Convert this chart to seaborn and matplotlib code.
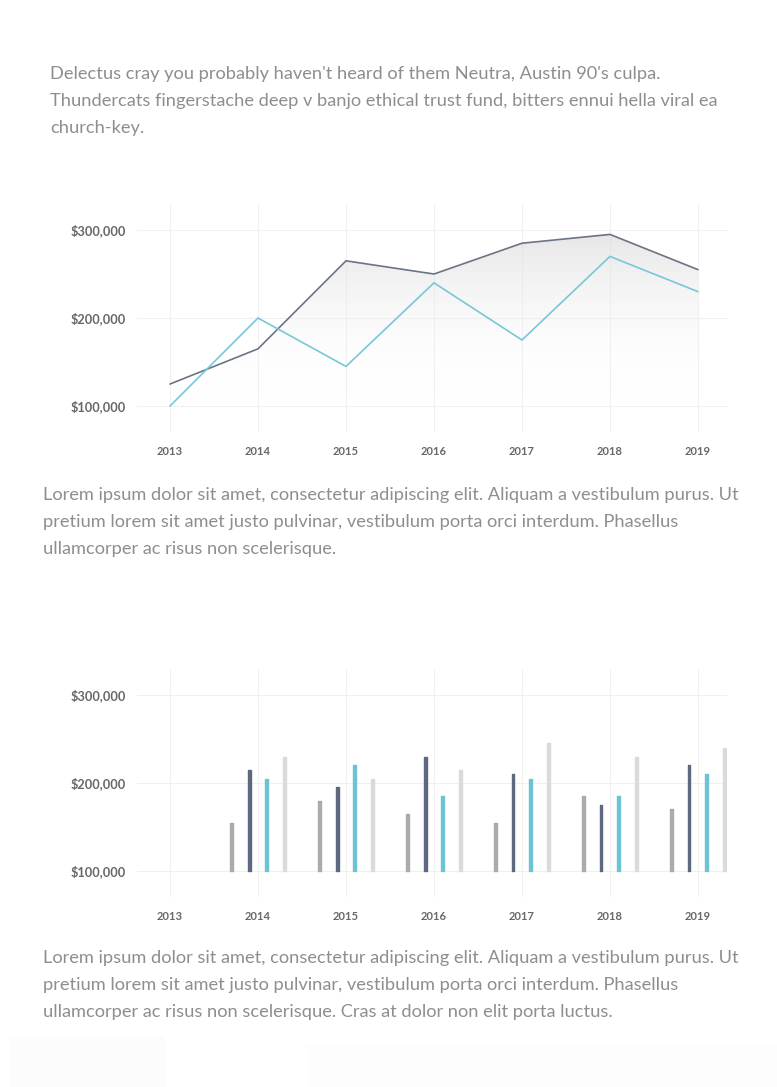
import numpy as np
import pandas as pd
import matplotlib
matplotlib.use("Agg")
import matplotlib.pyplot as plt
from matplotlib.patches import Polygon, Rectangle
from matplotlib.colors import LinearSegmentedColormap
from matplotlib.ticker import FuncFormatter
import seaborn as sns

# ---------------- data ----------------
years = [2013, 2014, 2015, 2016, 2017, 2018, 2019]
line_dark = [125000, 165000, 265000, 250000, 285000, 295000, 255000]
line_teal = [100000, 200000, 145000, 240000, 175000, 270000, 230000]

bar_years = [2014, 2015, 2016, 2017, 2018, 2019]
bar_gray = [155000, 180000, 165000, 155000, 185000, 170000]
bar_dark = [215000, 195000, 230000, 210000, 175000, 220000]
bar_teal = [205000, 220000, 185000, 205000, 185000, 210000]
bar_light = [230000, 205000, 215000, 245000, 230000, 240000]

y_ticks = [100000, 200000, 300000]
BASE = 100000

para1 = ["Delectus cray you probably haven't heard of them Neutra, Austin 90's culpa.",
         "Thundercats fingerstache deep v banjo ethical trust fund, bitters ennui hella viral ea",
         "church-key."]
para2 = ["Lorem ipsum dolor sit amet, consectetur adipiscing elit. Aliquam a vestibulum purus. Ut",
         "pretium lorem sit amet justo pulvinar, vestibulum porta orci interdum. Phasellus",
         "ullamcorper ac risus non scelerisque."]
para3 = ["Lorem ipsum dolor sit amet, consectetur adipiscing elit. Aliquam a vestibulum purus. Ut",
         "pretium lorem sit amet justo pulvinar, vestibulum porta orci interdum. Phasellus",
         "ullamcorper ac risus non scelerisque. Cras at dolor non elit porta luctus."]

# ---------------- style ----------------
sns.set_theme(style="white")
plt.rcParams['font.family'] = ['Lato', 'DejaVu Sans']

C_DARK = "#6b7384"
C_TEAL = "#78c7d6"
C_GRAY = "#ababab"
C_LIGHT = "#dadada"
C_BARDARK = "#5e6980"
C_BARTEAL = "#6cc3d5"
TXT = "#8e8e8e"
TICK = "#676767"
GRID = "#f0f0f0"

W, H = 777, 1087
fig = plt.figure(figsize=(W / 100, H / 100), dpi=100)
fig.patch.set_facecolor("white")


def px_axes(left, top, right, bottom):
    return fig.add_axes([left / W, 1 - bottom / H, (right - left) / W, (bottom - top) / H])


YLIM = (70500, 329000)
money = FuncFormatter(lambda v, p: "${:,.0f}".format(v))


def style_axes(ax):
    ax.set_ylim(*YLIM)
    ax.set_yticks(y_ticks)
    ax.yaxis.set_major_formatter(money)
    for s in ax.spines.values():
        s.set_visible(False)
    ax.grid(True, color=GRID, linewidth=0.8)
    ax.set_axisbelow(True)
    ax.tick_params(axis="y", length=0, pad=8, labelsize=9.2, labelcolor=TICK)
    ax.tick_params(axis="x", length=0, pad=10, labelsize=8.0, labelcolor=TICK)
    for lab in ax.get_xticklabels() + ax.get_yticklabels():
        lab.set_fontweight("bold")
    ax.set_xlabel("")
    ax.set_ylabel("")


# ---------------- line chart ----------------
ax1 = px_axes(137, 204.5, 727, 432)
df_line = pd.DataFrame({
    "year": years * 2,
    "value": line_dark + line_teal,
    "series": ["dark"] * len(years) + ["teal"] * len(years),
})

# gradient fill under the dark line
verts = [(years[0], YLIM[0])] + list(zip(years, line_dark)) + [(years[-1], YLIM[0])]
poly = Polygon(verts, closed=True, facecolor="none", edgecolor="none")
ax1.add_patch(poly)
cmap = LinearSegmentedColormap.from_list("g", [(1, 1, 1, 0), (0.86, 0.86, 0.86, 0.7)])
grad = np.linspace(0, 1, 256).reshape(-1, 1)
im = ax1.imshow(grad, extent=[years[0], years[-1], 110000, 300000], origin="lower",
                cmap=cmap, aspect="auto", zorder=1, interpolation="bilinear")
im.set_clip_path(poly)

sns.lineplot(data=df_line, x="year", y="value", hue="series",
             palette={"dark": C_DARK, "teal": C_TEAL}, linewidth=1.2,
             legend=False, ax=ax1, zorder=3)
ax1.set_xlim(2012.625, 2019.33)
ax1.set_xticks(years)
ax1.set_xticklabels([str(y) for y in years])
style_axes(ax1)

# ---------------- bar chart ----------------
ax2 = px_axes(137, 669.5, 727, 897)
series_names = ["a", "b", "c", "d"]
vals = [bar_gray, bar_dark, bar_teal, bar_light]
rows = []
for name, v in zip(series_names, vals):
    for yr, val in zip(bar_years, v):
        rows.append({"year": str(yr), "height": val - BASE, "series": name})
df_bar = pd.DataFrame(rows)
bar_pal = {"a": C_GRAY, "b": C_BARDARK, "c": C_BARTEAL, "d": C_LIGHT}
sns.barplot(data=df_bar, x="year", y="height", hue="series", order=[str(y) for y in years],
            hue_order=series_names, palette=bar_pal, width=0.8, gap=0.85,
            bottom=BASE, legend=False, ax=ax2, saturation=1, zorder=3)
for p in ax2.patches:
    p.set_edgecolor(p.get_facecolor())
    p.set_linewidth(1.0)
    p.set_joinstyle("round")
ax2.set_xlim(-0.375, 6.33)
ax2.set_xticks(range(len(years)))
ax2.set_xticklabels([str(y) for y in years])
style_axes(ax2)

# ---------------- paragraphs ----------------
def para(lines, x, y0, step=27):
    for i, t in enumerate(lines):
        fig.text(x / W, 1 - (y0 + i * step) / H, t, fontsize=13.15, color=TXT,
                 va="center", ha="left")


para(para1, 50, 74)
para(para2, 43, 495)
para(para3, 43, 958)

# faint blocks at the bottom
fig.patches.append(Rectangle((10 / W, 0), 155 / W, (1087 - 1037) / H, transform=fig.transFigure,
                             facecolor="#fcfcfc", edgecolor="none", zorder=0))
fig.patches.append(Rectangle((307 / W, 0), 470 / W, (1087 - 1045) / H, transform=fig.transFigure,
                             facecolor="#fdfdfd", edgecolor="none", zorder=0))

fig.savefig("out.png", dpi=100, facecolor="white")
